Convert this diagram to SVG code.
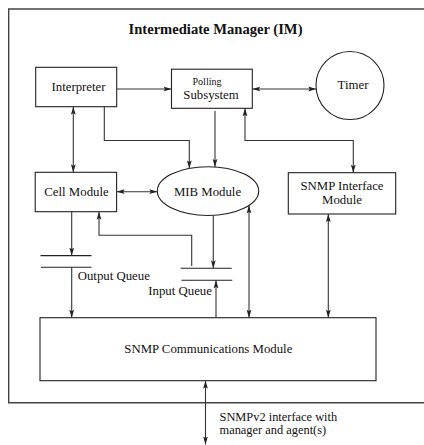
<svg xmlns="http://www.w3.org/2000/svg" width="424" height="445" viewBox="0 0 424 445">
<style>
  .box { fill: #fff; stroke: #222; stroke-width: 1.1; }
  .frame { fill: none; stroke: #444; stroke-width: 1.4; }
  .t { font-family: 'Liberation Serif', 'Times New Roman', Tinos, 'DejaVu Serif', serif; font-size: 12.8px; fill: #111; }
  .c { text-anchor: middle; }
  .title { font-weight: bold; font-size: 14.6px; }
  .small { font-size: 10px; }
  .ext { font-size: 12.4px; }
  .q { stroke: #222; stroke-width: 1.1; }
  .conn path { fill: none; stroke: #333; stroke-width: 1.1; }
  .one { marker-end: url(#ah); }
  .two { marker-start: url(#ah); marker-end: url(#ah); }
</style>
<defs>
  <marker id="ah" viewBox="0 0 8 6" refX="8" refY="3" markerWidth="8" markerHeight="6" markerUnits="userSpaceOnUse" orient="auto-start-reverse">
    <path d="M0,0.6 L8,3 L0,5.4 L1.6,3 z" fill="#222"/>
  </marker>
</defs>
<rect width="424" height="445" fill="#fff"/>

<g id="im-frame">
  <path class="frame" d="M424,9 H8.7 V402.8 H424"/>
  <text class="t c title" x="215.5" y="33.5" font-family="Liberation Serif, serif">Intermediate Manager (IM)</text>
</g>

<g id="interpreter">
  <rect class="box" x="35.7" y="67.3" width="81" height="39.4"/>
  <text class="t c" x="78.5" y="90.5" font-family="Liberation Serif, serif">Interpreter</text>
</g>

<g id="polling">
  <rect class="box" x="171.5" y="69.2" width="80.8" height="39.1"/>
  <text class="t c small" x="207" y="84.5" font-family="Liberation Serif, serif">Polling</text>
  <text class="t c" x="211" y="99" font-family="Liberation Serif, serif">Subsystem</text>
</g>

<g id="timer">
  <circle class="box" cx="350" cy="85.5" r="34"/>
  <text class="t c" x="353" y="88.5" font-family="Liberation Serif, serif">Timer</text>
</g>

<g id="cell-module">
  <rect class="box" x="35.2" y="172.3" width="81.4" height="39.4"/>
  <text class="t c" x="76.5" y="196" font-family="Liberation Serif, serif">Cell Module</text>
</g>

<g id="mib-module">
  <ellipse class="box" cx="208" cy="191.1" rx="50.7" ry="24.4"/>
  <text class="t c" x="207.5" y="196" font-family="Liberation Serif, serif">MIB Module</text>
</g>

<g id="snmp-interface">
  <rect class="box" x="288.3" y="172.7" width="107.4" height="41.3"/>
  <text class="t c" x="342" y="189.5" font-family="Liberation Serif, serif">SNMP Interface</text>
  <text class="t c" x="342" y="204" font-family="Liberation Serif, serif">Module</text>
</g>

<g id="output-queue">
  <line class="q" x1="40.5" y1="255.6" x2="91.5" y2="255.6"/>
  <line class="q" x1="41" y1="267.3" x2="91.5" y2="267.3"/>
  <text class="t" x="77.7" y="279.5" font-family="Liberation Serif, serif">Output Queue</text>
</g>

<g id="input-queue">
  <line class="q" x1="180.7" y1="268.3" x2="231.7" y2="268.3"/>
  <line class="q" x1="181.5" y1="280.3" x2="232.3" y2="280.3"/>
  <text class="t" x="148.3" y="295" font-family="Liberation Serif, serif">Input Queue</text>
</g>

<g id="snmp-comm">
  <rect class="box" x="40" y="317.7" width="336" height="63"/>
  <text class="t c" x="208.3" y="353" font-family="Liberation Serif, serif">SNMP Communications Module</text>
</g>

<g id="external-label">
  <text class="t ext" x="219.5" y="421" font-family="Liberation Serif, serif">SNMPv2 interface with</text>
  <text class="t ext" x="219.5" y="434" font-family="Liberation Serif, serif">manager and agent(s)</text>
</g>

<g id="connectors" class="conn">
  <path class="one" d="M116.7,89 H171.5"/>
  <path class="two" d="M252.3,89 H316.2"/>
  <path class="two" d="M73.3,106.7 V172.3"/>
  <path class="one" d="M104.3,106.7 V140.5 H189.3 V168.4"/>
  <path class="one" d="M215,111 V166.9"/>
  <path class="two" d="M353.3,172.7 V140.5 H245 V108.3"/>
  <path class="two" d="M116.6,191.7 H157.3"/>
  <path class="one" d="M71.7,211.7 V255.6"/>
  <path class="one" d="M71.7,267.3 V317.7"/>
  <path class="one" d="M191.7,266 V235.3 H99 V211.7"/>
  <path class="one" d="M213.3,215.5 V268.3"/>
  <path class="one" d="M216,317.7 V280.3"/>
  <path class="two" d="M249,205.4 V317.7"/>
  <path class="two" d="M328.3,214 V317.7"/>
  <path class="two" d="M205.5,380.7 V444.5"/>
</g>
</svg>
